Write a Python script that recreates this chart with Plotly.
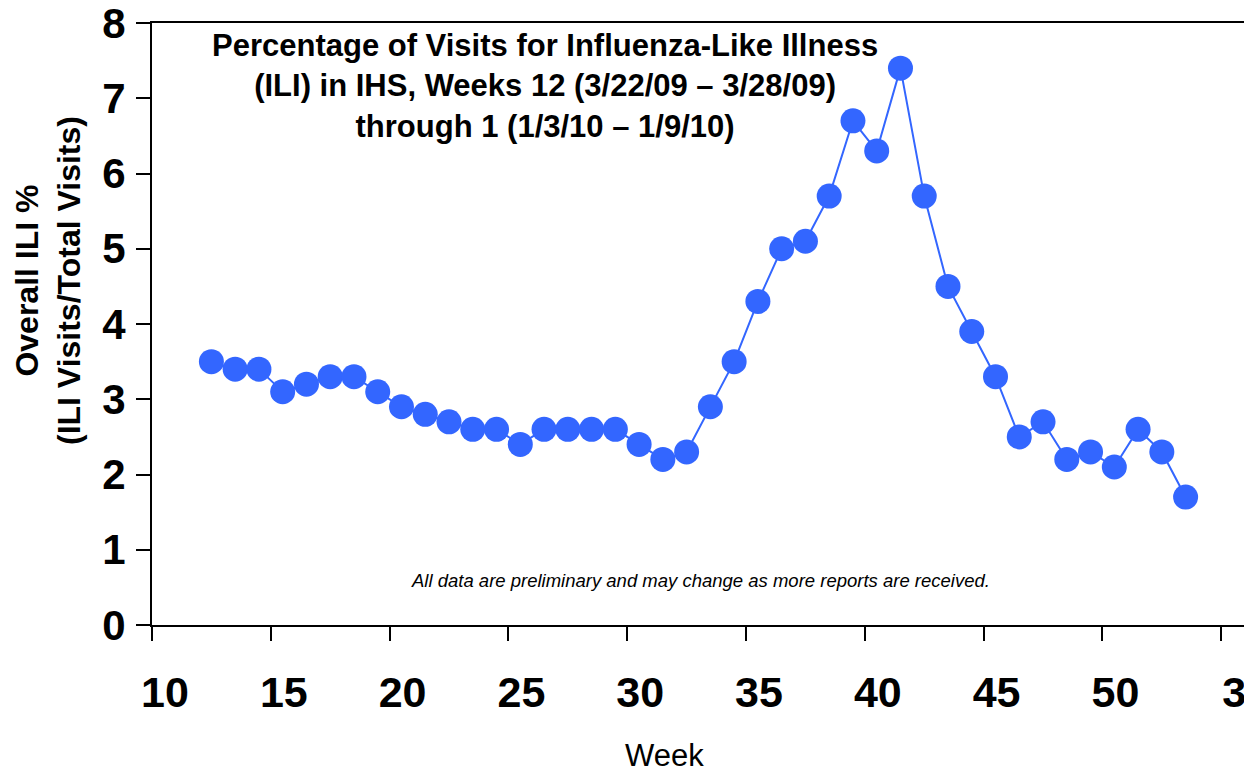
import plotly.graph_objects as go

week_labels = [str(w) for w in range(12, 53)] + ["1"]
week_index = list(range(12, 54))  # sequential week number (2010 week 1 -> 53)
ili_pct = [3.5, 3.4, 3.4, 3.1, 3.2, 3.3, 3.3, 3.1, 2.9, 2.8, 2.7, 2.6, 2.6, 2.4,
           2.6, 2.6, 2.6, 2.6, 2.4, 2.2, 2.3, 2.9, 3.5, 4.3, 5.0, 5.1, 5.7, 6.7,
           6.3, 7.4, 5.7, 4.5, 3.9, 3.3, 2.5, 2.7, 2.2, 2.3, 2.1, 2.6, 2.3, 1.7]
tick_vals = [10, 15, 20, 25, 30, 35, 40, 45, 50, 55]
tick_text = ["10", "15", "20", "25", "30", "35", "40", "45", "50", "3"]

x_mid = [w + 0.5 for w in week_index]

# page has an 8px body margin: draw the figure 8px smaller
OFF = 8
FW, FH = 1252 - OFF, 774 - OFF
L, R, T, B = 152, 1245, 23, 625  # plot box in page pixels
W, H = R - L, B - T

def px(x):
    return (x - L) / W

def py(y):
    return (B - y) / H

fig = go.Figure()
fig.add_trace(go.Scatter(
    x=x_mid, y=ili_pct, mode="lines+markers",
    line=dict(color="#3366FF", width=2),
    marker=dict(color="#3366FF", size=25, line=dict(width=0)),
    text=week_labels, hovertemplate="Week %{text}: %{y}%<extra></extra>",
    showlegend=False, cliponaxis=False,
))

font_main = "Liberation Sans, Arial, sans-serif"

fig.update_layout(
    width=FW, height=FH,
    margin=dict(l=L - OFF, r=1252 - R, t=T - OFF, b=774 - B),
    paper_bgcolor="white", plot_bgcolor="white",
    font=dict(family=font_main, color="black"),
    xaxis=dict(
        range=[10, 56], tickmode="array", tickvals=tick_vals, ticktext=tick_text,
        showgrid=False, zeroline=False, showline=True, linecolor="black", linewidth=2,
        mirror=True, ticks="outside", ticklen=14, tickwidth=2, tickcolor="black",
        tickfont=dict(size=43, family=font_main, color="black", weight="bold"),
        ticklabelshift=13, ticklabelstandoff=14, automargin=False,
        ticklabeloverflow="allow",
    ),
    yaxis=dict(
        range=[0, 8], tickvals=[0, 1, 2, 3, 4, 5, 6, 7, 8],
        showgrid=False, zeroline=False, showline=True, linecolor="black", linewidth=2,
        mirror=True, ticks="outside", ticklen=14, tickwidth=2, tickcolor="black",
        tickfont=dict(size=42, family=font_main, color="black", weight="bold"),
        ticklabelstandoff=2, automargin=False, ticklabeloverflow="allow",
    ),
    annotations=[
        dict(text="Percentage of Visits for Influenza-Like Illness<br>"
                  "(ILI) in IHS, Weeks 12 (3/22/09 – 3/28/09)<br>"
                  "through 1 (1/3/10 – 1/9/10)",
             xref="paper", yref="paper", x=px(545), y=py(86),
             xanchor="center", yanchor="middle", showarrow=False, align="center",
             font=dict(size=31, family=font_main, weight="bold", color="black")),
        dict(text="<i>All data are preliminary and may change as more reports are received.</i>",
             xref="paper", yref="paper", x=px(700), y=py(580),
             xanchor="center", yanchor="middle", showarrow=False,
             font=dict(size=18.5, family=font_main, color="black")),
        dict(text="Overall ILI %<br>(ILI Visits/Total Visits)",
             xref="paper", yref="paper", x=px(48), y=py(281), textangle=-90,
             xanchor="center", yanchor="middle", showarrow=False, align="center",
             font=dict(size=32, family=font_main, weight="bold", color="black")),
        dict(text="Week",
             xref="paper", yref="paper", x=px(664), y=py(755),
             xanchor="center", yanchor="middle", showarrow=False,
             font=dict(size=31, family=font_main, color="black")),
    ],
)

fig.write_html("out.html")
